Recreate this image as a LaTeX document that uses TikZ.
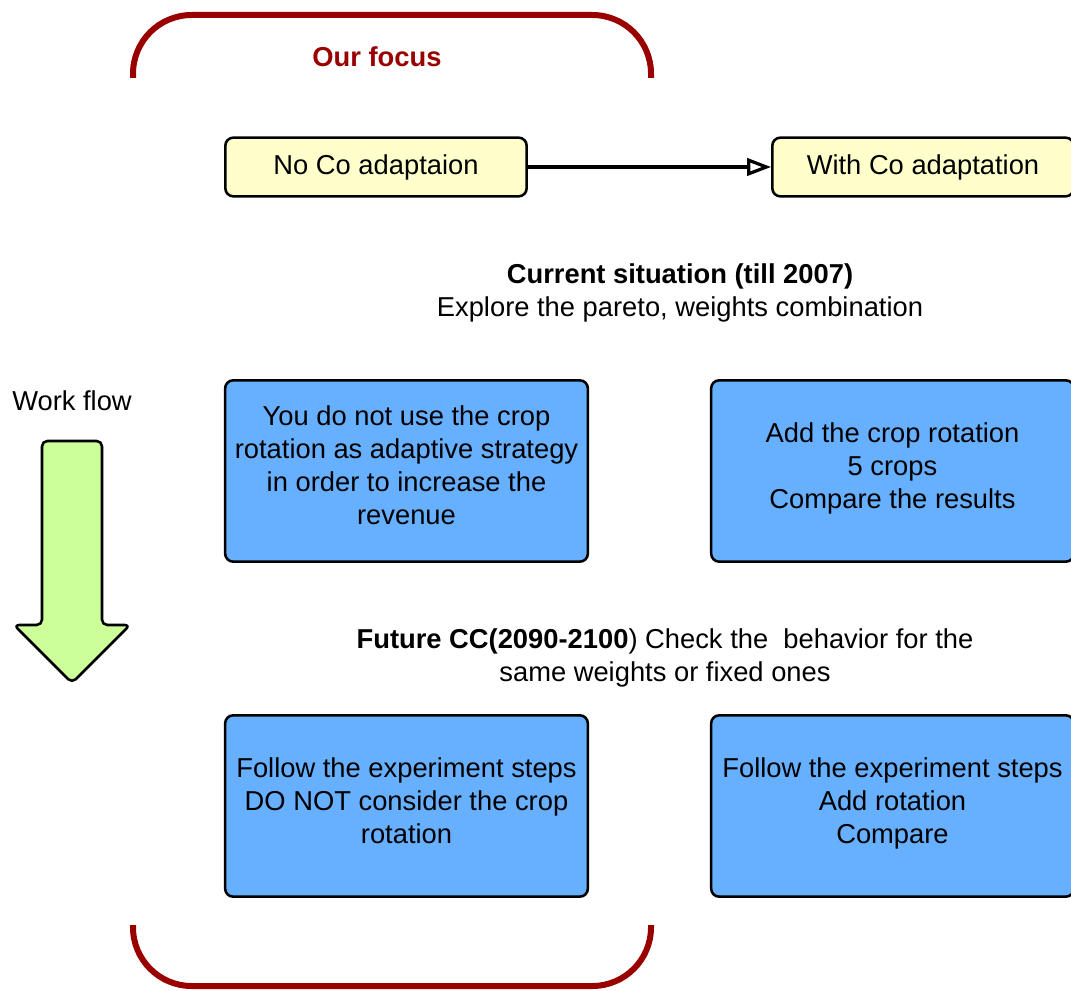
\documentclass[tikz,border=0pt]{standalone}
\usepackage{fontspec}
\setmainfont{Liberation Sans}
\usetikzlibrary{arrows.meta}
\definecolor{focusred}{HTML}{990000}
\definecolor{boxyellow}{HTML}{FFFFCC}
\definecolor{boxblue}{HTML}{66B0FF}
\definecolor{flowgreen}{HTML}{CCFF99}
\tikzset{
  casebox/.style={draw,line width=1.9pt,rounded corners=6pt,fill=boxyellow,minimum width=226pt,minimum height=44pt},
  stepbox/.style={draw,line width=1.9pt,rounded corners=6pt,fill=boxblue,minimum width=272pt,minimum height=136pt},
  steptext/.style={align=center},
  focus/.style={draw=focusred,line width=4.5pt,rounded corners=44pt}
}
\begin{document}
\begin{tikzpicture}[x=.75pt,y=-.75pt,font=\fontsize{20.5}{24.75}\selectfont]
\path[use as bounding box] (0,0) rectangle (1071,991);
\begin{scope}
\clip (0,0) rectangle (1071,991);
% focus brackets
\draw[focus] (133,78) -- (133,15) -- (651,15) -- (651,78);
\draw[focus] (133,925) -- (133,986) -- (651,986) -- (651,925);
\node[text=focusred,font=\fontsize{20.5}{24.75}\selectfont\bfseries] (focus) at (377,57) {Our focus};
% adaptation cases
\node[casebox] (noco) at (376,167) {No Co adaptaion};
\node[casebox] (withco) at (923,167) {With Co adaptation};
\draw[-{Triangle[open,fill=white,length=18pt,width=13pt]},line width=2.4pt] (noco) -- (withco);
% current situation
\node[align=center] (current) at (680,293) {\textbf{Current situation (till 2007)}\\Explore the pareto, weights combination};
\node[stepbox] (curno) at (406.5,471) {};
\node[steptext] (curnotext) at (406.5,465) {You do not use the crop\\rotation as adaptive strategy\\in order to increase the\\revenue};
\node[stepbox] (curwith) at (892.5,471) {};
\node[steptext] (curwithtext) at (892.5,468) {Add the crop rotation\\5 crops\\Compare the results};
% future
\node[align=center] (future) at (665,658) {\textbf{Future CC(2090-2100}) Check the\ \ behavior for the\\same weights or fixed ones};
\node[stepbox] (futno) at (406.5,806) {};
\node[steptext] (futnotext) at (406.5,801) {Follow the experiment steps\\DO NOT consider the crop\\rotation};
\node[stepbox] (futwith) at (892.5,806) {};
\node[steptext] (futwithtext) at (892.5,803) {Follow the experiment steps\\Add rotation\\Compare};
% work flow arrow
\node (flow) at (72,401) {Work flow};
\filldraw[fill=flowgreen,line width=1.9pt,rounded corners=4pt] (42,441) -- (102,441) -- (102,625) -- (130,625) -- (72,683) -- (14,625) -- (42,625) -- cycle;
\end{scope}
\end{tikzpicture}
\end{document}
